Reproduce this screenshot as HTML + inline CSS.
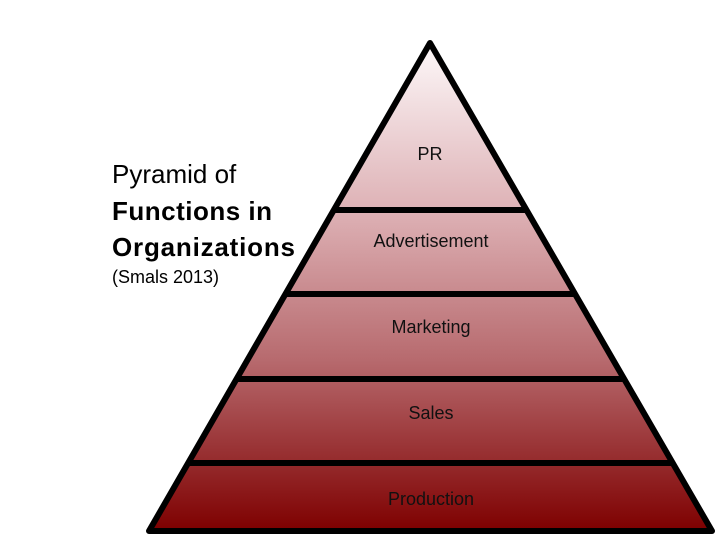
<!DOCTYPE html>
<html><head><style>
html,body{margin:0;padding:0;background:#fff;}
</style></head><body>
<svg width="720" height="540" xmlns="http://www.w3.org/2000/svg" style="display:block">
<defs>
<linearGradient id="g" x1="0" y1="43" x2="0" y2="531" gradientUnits="userSpaceOnUse">
<stop offset="0" stop-color="#fdf8f9"/>
<stop offset="0.35" stop-color="#ddb0b4"/>
<stop offset="0.65" stop-color="#b76a6e"/>
<stop offset="1" stop-color="#7e0000"/>
</linearGradient>
</defs>
<polygon points="430,43 712,531 149,531" fill="url(#g)" stroke="#000" stroke-width="6" stroke-linejoin="round"/>
<g stroke="#000" stroke-width="6">
<line x1="334" y1="210" x2="527" y2="210"/>
<line x1="286" y1="294" x2="575" y2="294"/>
<line x1="236" y1="379" x2="624" y2="379"/>
<line x1="188" y1="463" x2="673" y2="463"/>
</g>
<g font-family="Liberation Sans, sans-serif" font-size="18" fill="#111" text-anchor="middle">
<text x="430" y="160">PR</text>
<text x="431" y="247">Advertisement</text>
<text x="431" y="333">Marketing</text>
<text x="431" y="419">Sales</text>
<text x="431" y="505">Production</text>
</g>
<g font-family="Liberation Sans, sans-serif" fill="#000">
<text x="112" y="183" font-size="26">Pyramid of</text>
<text x="112" y="220" font-size="26" font-weight="bold" textLength="160">Functions in</text>
<text x="112" y="256" font-size="26" font-weight="bold" textLength="183">Organizations</text>
<text x="112" y="283" font-size="18">(Smals 2013)</text>
</g>
</svg>
</body></html>
